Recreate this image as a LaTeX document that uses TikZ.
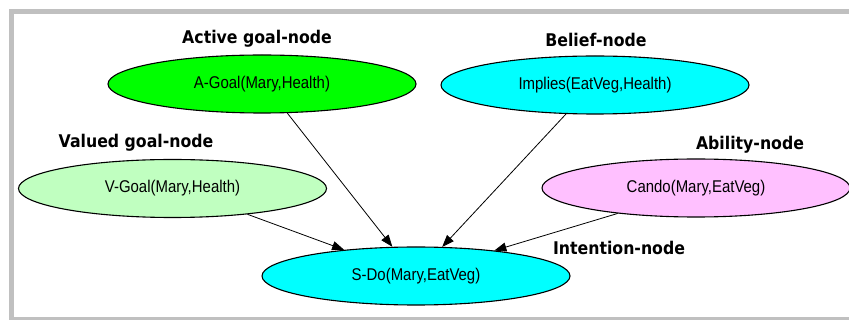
\documentclass[tikz,border=0pt]{standalone}
\usepackage{fontspec}
\setmainfont{Liberation Sans}
\newfontfamily\innerfont[FakeStretch=0.88]{Liberation Sans}
\newfontfamily\labelfont[FakeStretch=0.9]{DejaVu Sans}
\usetikzlibrary{shapes.geometric,arrows.meta}
\definecolor{framegray}{HTML}{C0C0C0}
\definecolor{agreen}{HTML}{00FF00}
\definecolor{vgreen}{HTML}{C0FFC0}
\definecolor{cyanfill}{HTML}{00FFFF}
\definecolor{pinkfill}{HTML}{FFC0FF}
\tikzset{
  gnode/.style={ellipse, draw=black, line width=1.1pt, minimum width=308pt, minimum height=58pt, inner sep=0pt,
    font=\innerfont\fontsize{17}{20}\selectfont},
  nlabel/.style={anchor=base, inner sep=0pt, font=\labelfont\bfseries\fontsize{17.5}{20}\selectfont},
  arr/.style={draw=black, line width=0.8pt, -{Triangle[length=12pt,width=9pt]}}
}
\begin{document}
\begin{tikzpicture}[x=1pt,y=-1pt]
\useasboundingbox (0,0) rectangle (849,320);
\fill[white] (0,0) rectangle (849,320);
% frame
\fill[framegray] (9,9) rectangle (849,14);
\fill[framegray] (9,9) rectangle (14,320);
\fill[framegray] (9,317.5) rectangle (849,320);
% nodes
\node[gnode, fill=agreen] (agoal) at (262,84) {A-Goal(Mary,Health)};
\node[gnode, fill=cyanfill] (implies) at (595,85) {Implies(EatVeg,Health)};
\node[gnode, fill=vgreen] (vgoal) at (172.5,188.5) {V-Goal(Mary,Health)};
\node[gnode, fill=pinkfill] (cando) at (696,188) {Cando(Mary,EatVeg)};
\node[gnode, fill=cyanfill] (sdo) at (416,276) {S-Do(Mary,EatVeg)};
% labels
\node[nlabel] (lactive) at (257,44) {Active goal-node};
\node[nlabel] (lbelief) at (596,47) {Belief-node};
\node[nlabel] (lvalued) at (136,148) {Valued goal-node};
\node[nlabel] (lability) at (750,150) {Ability-node};
\node[nlabel] (lintention) at (619,255) {Intention-node};
% edges
\draw[arr] (agoal.-49) -- (sdo.129.6);
\draw[arr] (implies.-135) -- (sdo.48);
\draw[arr] (vgoal.-19.3) -- (sdo.160.6);
\draw[arr] (cando.-162.8) -- (sdo.18);
\end{tikzpicture}
\end{document}
